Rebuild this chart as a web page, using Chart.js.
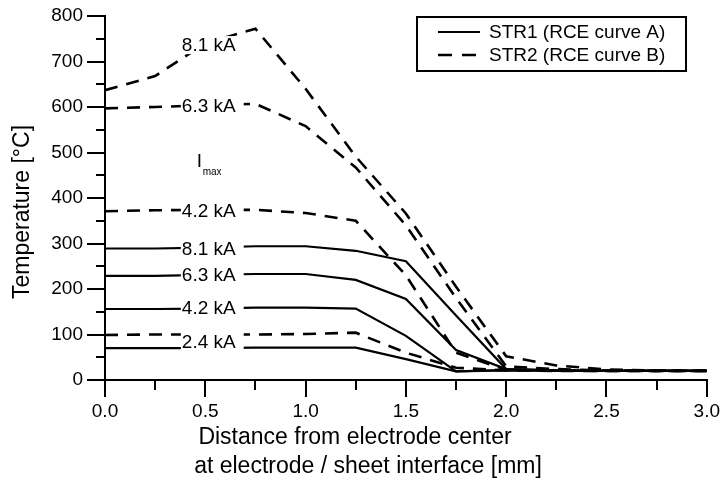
<!DOCTYPE html>
<html>
<head>
<meta charset="utf-8">
<script src="https://cdn.jsdelivr.net/npm/chart.js@4.4.1/dist/chart.umd.min.js"></script>
<style>
  body { margin: 0; background: #fff; }
  #wrap { width: 723px; height: 488px; }
</style>
</head>
<body>
<div id="wrap"><canvas id="chart" width="723" height="488"></canvas></div>
<script>
// distance from electrode center [mm]
const distance = [0, 0.25, 0.5, 0.75, 1.0, 1.25, 1.5, 1.75, 2.0, 2.25, 2.5, 2.75, 3.0];

// STR1 (RCE curve A) - solid
const str1_81 = [289, 289, 291, 294, 294, 284, 261, 142, 24, 21, 20, 20, 20];
const str1_63 = [229, 229, 231, 233, 233, 220, 178, 66, 24, 21, 20, 20, 20];
const str1_42 = [156, 156, 157, 159, 159, 157, 97, 19, 22, 20, 20, 20, 20];
const str1_24 = [70, 70, 70, 71, 71, 71, 46, 19, 21, 20, 20, 20, 20];

// STR2 (RCE curve B) - dashed
const str2_81 = [637, 668, 740, 772, 640, 491, 366, 205, 52, 32, 23, 21, 20];
const str2_63 = [597, 600, 604, 607, 558, 467, 340, 180, 30, 24, 21, 20, 20];
const str2_42 = [371, 373, 374, 374, 367, 350, 230, 60, 22, 21, 20, 20, 20];
const str2_24 = [99, 100, 100, 100, 101, 104, 60, 27, 21, 20, 20, 20, 20];

// current labels placed on the curves (x, y in data units)
const curveLabels = ["8.1 kA", "6.3 kA", "4.2 kA", "8.1 kA", "6.3 kA", "4.2 kA", "2.4 kA"];
const labelX = [0.383, 0.383, 0.383, 0.383, 0.383, 0.383, 0.383];
const labelY = [736, 602, 371, 288, 231, 158, 85];

const legendNames = ["STR1 (RCE curve A)", "STR2 (RCE curve B)"];

const FONT = "'Liberation Sans', Arial, sans-serif";
const DASH = [13, 9];

function toPoints(ys) {
  return ys.map((y, i) => ({ x: distance[i], y: y }));
}

function solid(ys) {
  return { data: toPoints(ys), borderColor: "#000", borderWidth: 2.2, pointRadius: 0, showLine: true, tension: 0 };
}
function dashed(ys) {
  return { data: toPoints(ys), borderColor: "#000", borderWidth: 2.6, borderDash: DASH, pointRadius: 0, showLine: true, tension: 0 };
}

const extras = {
  id: "extras",
  afterDatasetsDraw(chart) {
    const ctx = chart.ctx;
    const xs = chart.scales.x, ys = chart.scales.y;
    const area = chart.chartArea;
    ctx.save();

    // minor ticks
    ctx.strokeStyle = "#000";
    ctx.lineWidth = 2;
    for (let v = 50; v < 800; v += 100) {
      const py = Math.round(ys.getPixelForValue(v));
      ctx.beginPath(); ctx.moveTo(area.left - 9, py); ctx.lineTo(area.left, py); ctx.stroke();
    }
    for (let v = 0.25; v < 3; v += 0.5) {
      const px = Math.round(xs.getPixelForValue(v));
      ctx.beginPath(); ctx.moveTo(px, area.bottom); ctx.lineTo(px, area.bottom + 10); ctx.stroke();
    }

    // curve labels with white background
    ctx.font = "19px " + FONT;
    ctx.textBaseline = "middle";
    ctx.textAlign = "left";
    curveLabels.forEach((t, i) => {
      const px = xs.getPixelForValue(labelX[i]);
      const py = ys.getPixelForValue(labelY[i]);
      const w = ctx.measureText(t).width;
      ctx.fillStyle = "#fff";
      ctx.fillRect(px - 1, py - 9, w + 9, 18);
      ctx.fillStyle = "#000";
      ctx.fillText(t, px, py + 1);
    });

    // I max
    const ix = xs.getPixelForValue(0.457), iy = ys.getPixelForValue(479);
    ctx.font = "19px " + FONT;
    ctx.fillText("I", ix, iy);
    ctx.font = "10px " + FONT;
    ctx.fillText("max", ix + 6, iy + 10);

    // legend
    const lx = 417, ly = 17, lw = 269, lh = 54;
    ctx.fillStyle = "#fff";
    ctx.fillRect(lx, ly, lw, lh);
    ctx.lineWidth = 2;
    ctx.strokeStyle = "#000";
    ctx.strokeRect(lx, ly, lw, lh);
    ctx.font = "19px " + FONT;
    ctx.fillStyle = "#000";
    const rows = [32, 55];
    rows.forEach((ry, i) => {
      ctx.beginPath();
      if (i === 1) { ctx.setLineDash([14, 10]); ctx.lineWidth = 2.6; } else { ctx.setLineDash([]); ctx.lineWidth = 2.2; }
      ctx.moveTo(438, ry); ctx.lineTo(480, ry); ctx.stroke();
      ctx.setLineDash([]);
      ctx.fillText(legendNames[i], 489, ry + 1);
    });

    // axis titles
    ctx.font = "23px " + FONT;
    ctx.textAlign = "center";
    ctx.fillText("Distance from electrode center", 355, 438);
    ctx.fillText("at electrode / sheet interface [mm]", 368, 467);
    ctx.translate(23, 212);
    ctx.rotate(-Math.PI / 2);
    ctx.fillText("Temperature [°C]", 0, 0);
    ctx.restore();
  }
};

new Chart(document.getElementById("chart"), {
  type: "scatter",
  data: {
    datasets: [
      solid(str1_81), solid(str1_63), solid(str1_42), solid(str1_24),
      dashed(str2_81), dashed(str2_63), dashed(str2_42), dashed(str2_24)
    ]
  },
  options: {
    responsive: false,
    animation: false,
    layout: { padding: { left: 0, right: 14, top: 16, bottom: 0 } },
    plugins: { legend: { display: false }, tooltip: { enabled: false } },
    scales: {
      x: {
        type: "linear", min: 0, max: 3,
        afterFit: (s) => { s.height = 108; },
        border: { display: true, color: "#000", width: 2 },
        grid: { drawOnChartArea: false, color: "#000", lineWidth: 2, tickLength: 17 },
        ticks: { stepSize: 0.5, color: "#000", padding: 3, font: { family: FONT, size: 19 },
                 callback: (v) => v.toFixed(1) }
      },
      y: {
        type: "linear", min: 0, max: 800,
        afterFit: (s) => { s.width = 105; },
        border: { display: true, color: "#000", width: 2 },
        grid: { drawOnChartArea: false, color: "#000", lineWidth: 2, tickLength: 18 },
        ticks: { stepSize: 100, color: "#000", padding: 4, font: { family: FONT, size: 19 } }
      }
    }
  },
  plugins: [extras]
});
</script>
</body>
</html>
